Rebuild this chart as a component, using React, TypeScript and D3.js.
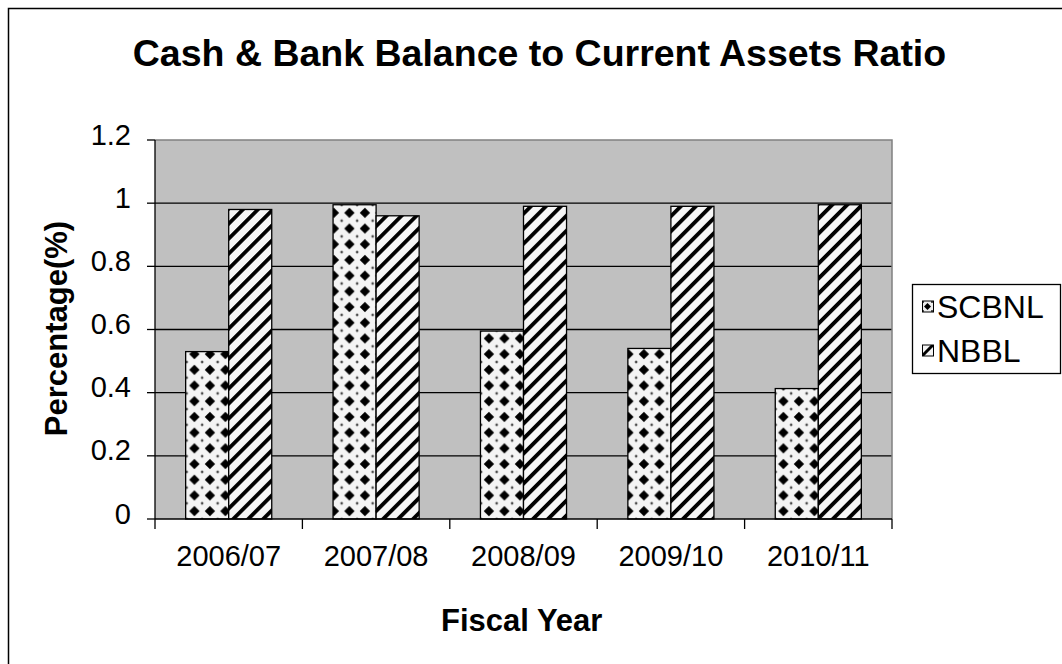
import React from 'react';
import * as d3 from 'd3';

const categories = ['2006/07', '2007/08', '2008/09', '2009/10', '2010/11'];
const seriesNames = ['SCBNL', 'NBBL'];
const scbnl = [0.53, 0.995, 0.595, 0.54, 0.413];
const nbbl = [0.98, 0.96, 0.99, 0.99, 0.995];
const yTicks = [0, 0.2, 0.4, 0.6, 0.8, 1, 1.2];
const title = 'Cash & Bank Balance to Current Assets Ratio';
const xTitle = 'Fiscal Year';
const yTitle = 'Percentage(%)';

const W = 1062;
const H = 664;
const FONT = '"Liberation Sans", Arial, sans-serif';

export default function App() {
  const plot = { left: 155, right: 892, top: 140, bottom: 519 };
  const x = d3.scaleBand<string>().domain(categories).range([plot.left, plot.right]).padding(0);
  const y = d3.scaleLinear().domain([0, 1.2]).range([plot.bottom, plot.top]);
  const barW = x.bandwidth() * 0.292;
  const groupOffset = (x.bandwidth() - 2 * barW) / 2;
  const series = [scbnl, nbbl];
  const fills = ['url(#diamonds)', 'url(#stripes)'];
  const legendFills = ['url(#diamondsSmall)', 'url(#stripesSmall)'];
  const boundaries = [...categories.map((c) => x(c) as number), plot.right];

  return (
    <svg width={W} height={H} style={{ position: 'absolute', left: 0, top: 0 }} fontFamily={FONT}>
      <defs>
        <pattern id="diamonds" patternUnits="userSpaceOnUse" width={15.5} height={15.7} x={plot.left + groupOffset + 1} y={plot.bottom}>
          <rect width={15.5} height={15.7} fill="#f4f4f4" />
          <path d="M7.75,2.6 L12.9,7.85 L7.75,13.1 L2.6,7.85 Z" fill="#000" />
          <path d="M0,-1.6 L1.6,0 L0,1.6 L-1.6,0 Z M15.5,-1.6 L17.1,0 L15.5,1.6 L13.9,0 Z M0,14.1 L1.6,15.7 L0,17.3 L-1.6,15.7 Z M15.5,14.1 L17.1,15.7 L15.5,17.3 L13.9,15.7 Z" fill="#444" />
        </pattern>
        <pattern id="stripes" patternUnits="userSpaceOnUse" width={10.6} height={10.6} patternTransform="rotate(45)">
          <rect width={10.6} height={10.6} fill="#f6f6f6" />
          <rect x={0} width={3.8} height={10.6} fill="#000" />
        </pattern>
        <pattern id="diamondsSmall" patternUnits="userSpaceOnUse" width={11} height={11} x={922} y={301}>
          <rect width={11} height={11} fill="#eee" />
          <path d="M5.5,2 L9,5.5 L5.5,9 L2,5.5 Z" fill="#000" />
          <rect x={0} y={0} width={2} height={2} fill="#555" />
          <rect x={9} y={0} width={2} height={2} fill="#555" />
          <rect x={0} y={9} width={2} height={2} fill="#555" />
          <rect x={9} y={9} width={2} height={2} fill="#555" />
        </pattern>
        <pattern id="stripesSmall" patternUnits="userSpaceOnUse" width={11} height={11} x={922} y={345}>
          <rect width={11} height={11} fill="#f4f4f4" />
          <path d="M0,11 L11,0" stroke="#000" strokeWidth={3} />
        </pattern>
      </defs>

      <rect x={8.5} y={8.5} width={1200} height={800} fill="#fff" stroke="#000" strokeWidth={1.5} />

      <text x={539.5} y={66} textAnchor="middle" fontSize={37.5} fontWeight="bold" fill="#000">
        {title}
      </text>

      {/* plot area */}
      <rect x={plot.left} y={plot.top} width={plot.right - plot.left} height={plot.bottom - plot.top} fill="#c0c0c0" />
      {yTicks.filter((t) => t > 0 && t < 1.2).map((t) => (
        <line key={t} x1={plot.left} x2={plot.right} y1={y(t)} y2={y(t)} stroke="#000" strokeWidth={1.3} />
      ))}
      <path d={`M${plot.left},${plot.top}H${plot.right}V${plot.bottom}`} fill="none" stroke="#808080" strokeWidth={1.5} />

      {/* bars */}
      {categories.map((c, i) => (
        <g key={c}>
          {series.map((s, j) => (
            <rect
              key={j}
              x={(x(c) as number) + groupOffset + j * barW}
              y={y(s[i])}
              width={barW}
              height={y(0) - y(s[i])}
              fill={fills[j]}
              stroke="#000"
              strokeWidth={1.3}
            />
          ))}
        </g>
      ))}

      {/* axes */}
      <line x1={plot.left} x2={plot.left} y1={plot.top} y2={plot.bottom} stroke="#000" strokeWidth={1.3} />
      <line x1={plot.left} x2={plot.right} y1={plot.bottom} y2={plot.bottom} stroke="#000" strokeWidth={1.3} />
      {yTicks.map((t) => (
        <g key={t}>
          <line x1={plot.left - 8} x2={plot.left} y1={y(t)} y2={y(t)} stroke="#000" strokeWidth={1.3} />
          <text x={131} y={y(t) + 4.5} textAnchor="end" fontSize={29} fill="#000">
            {d3.format('~g')(t)}
          </text>
        </g>
      ))}
      {boundaries.map((b, i) => (
        <line key={i} x1={b} x2={b} y1={plot.bottom} y2={plot.bottom + 10} stroke="#000" strokeWidth={1.3} />
      ))}
      {categories.map((c) => (
        <text key={c} x={(x(c) as number) + x.bandwidth() / 2} y={566} textAnchor="middle" fontSize={29} fill="#000">
          {c}
        </text>
      ))}

      <text x={521.7} y={631} textAnchor="middle" fontSize={31} fontWeight="bold" fill="#000">
        {xTitle}
      </text>
      <text transform={`translate(66.5,328.5) rotate(-90)`} textAnchor="middle" fontSize={31} fontWeight="bold" fill="#000">
        {yTitle}
      </text>

      {/* legend */}
      <rect x={912.5} y={284.5} width={148} height={89} fill="#fff" stroke="#000" strokeWidth={1.3} />
      {seriesNames.map((n, j) => (
        <g key={n}>
          <rect x={922.5} y={301 + j * 44} width={11} height={11} fill={legendFills[j]} stroke="#000" strokeWidth={1} />
          <text x={937} y={317.5 + j * 44} fontSize={32} fill="#000">
            {n}
          </text>
        </g>
      ))}
    </svg>
  );
}
